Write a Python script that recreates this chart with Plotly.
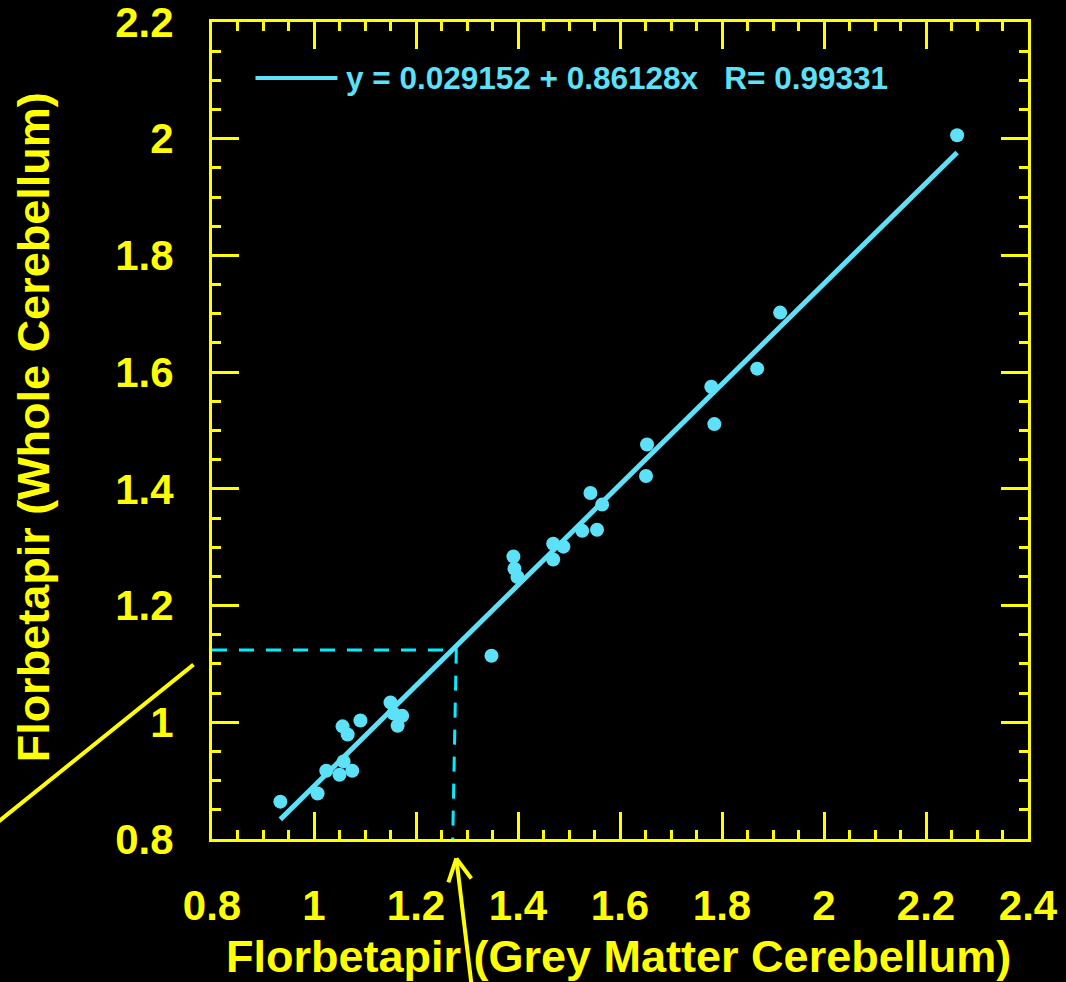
import plotly.graph_objects as go

# ---- data ----
grey_matter = [0.934, 1.007, 1.024, 1.050, 1.058, 1.075, 1.056, 1.066, 1.091,
               1.150, 1.156, 1.173, 1.164, 1.348, 1.391, 1.393, 1.399, 1.469,
               1.489, 1.469, 1.526, 1.555, 1.565, 1.542, 1.651, 1.653, 1.779,
               1.785, 1.869, 1.914, 2.261]
whole_cereb = [0.864, 0.878, 0.917, 0.910, 0.933, 0.917, 0.993, 0.979, 1.003,
               1.034, 1.015, 1.011, 0.994, 1.114, 1.284, 1.263, 1.249, 1.306,
               1.301, 1.279, 1.328, 1.330, 1.373, 1.393, 1.422, 1.476, 1.575,
               1.511, 1.606, 1.702, 2.006]

intercept = 0.029152
slope = 0.86128
r_value = 0.99331
threshold_x_top = 1.279
threshold_x_bottom = 1.272
threshold_y = 1.124

x_ticks = [0.8, 1.0, 1.2, 1.4, 1.6, 1.8, 2.0, 2.2, 2.4]
x_tick_text = ["0.8", "1", "1.2", "1.4", "1.6", "1.8", "2", "2.2", "2.4"]
y_ticks = [0.8, 1.0, 1.2, 1.4, 1.6, 1.8, 2.0, 2.2]
y_tick_text = ["0.8", "1", "1.2", "1.4", "1.6", "1.8", "2", "2.2"]
x_range = [0.8, 2.4]
y_range = [0.8, 2.2]

x_title = "Florbetapir (Grey Matter Cerebellum)"
y_title = "Florbetapir (Whole Cerebellum)"

# ---- styling ----
YELLOW = "#FFFF00"
CYAN = "#5CE1F8"
DASH_CYAN = "#00EEFF"
FONT = "Liberation Sans, Arial, Helvetica, sans-serif"

W, H = 1066, 982
ML, MR, MT, MB = 211.5, 38, 22, 142.5
PW, PH = W - ML - MR, H - MT - MB


def px(xp):
    return (xp - ML) / PW


def py(yp):
    return (H - MB - yp) / PH


fit_x = [min(grey_matter), max(grey_matter)]
fit_y = [intercept + slope * v for v in fit_x]

fig = go.Figure()

# dashed threshold guides
fig.add_trace(go.Scatter(
    x=[x_range[0], threshold_x_top, threshold_x_bottom],
    y=[threshold_y, threshold_y, y_range[0]],
    mode="lines", line=dict(color=DASH_CYAN, width=3, dash="15px,12px"),
    hoverinfo="skip", showlegend=False))

# regression line
fig.add_trace(go.Scatter(
    x=fit_x, y=fit_y, mode="lines",
    line=dict(color=CYAN, width=5), showlegend=False))

# data points
fig.add_trace(go.Scatter(
    x=grey_matter, y=whole_cereb, mode="markers",
    marker=dict(color=CYAN, size=14, line=dict(width=0)),
    showlegend=False))

axis_common = dict(
    showline=True, linecolor=YELLOW, linewidth=3, mirror="allticks",
    ticks="inside", ticklen=27, tickwidth=3, tickcolor=YELLOW,
    showgrid=False, zeroline=False, automargin=False,
    ticklabeloverflow="allow",
    tickfont=dict(family=FONT, size=42, color=YELLOW, weight="bold"),
    minor=dict(ticks="inside", ticklen=9, tickwidth=2.5, tickcolor=YELLOW,
               dtick=0.05, showgrid=False),
)

fig.update_xaxes(range=x_range, tickvals=x_ticks, ticktext=x_tick_text,
                 ticklabelstandoff=28, **axis_common)
fig.update_yaxes(range=y_range, tickvals=y_ticks, ticktext=y_tick_text,
                 ticklabelstandoff=27, **axis_common)

shapes = []
# legend sample line
shapes.append(dict(type="line", xref="paper", yref="paper",
                   x0=px(255), x1=px(337), y0=py(78), y1=py(78),
                   line=dict(color=CYAN, width=4)))
# yellow pointer line on the left
shapes.append(dict(type="line", xref="paper", yref="paper",
                   x0=px(-2), y0=py(822), x1=px(193), y1=py(665),
                   line=dict(color=YELLOW, width=4)))
# yellow arrow below the x axis
shapes.append(dict(type="line", xref="paper", yref="paper",
                   x0=px(471), y0=py(984), x1=px(456), y1=py(859),
                   line=dict(color=YELLOW, width=4)))
shapes.append(dict(type="line", xref="paper", yref="paper",
                   x0=px(456), y0=py(859), x1=px(448), y1=py(883),
                   line=dict(color=YELLOW, width=4)))
shapes.append(dict(type="line", xref="paper", yref="paper",
                   x0=px(456), y0=py(859), x1=px(471), y1=py(879),
                   line=dict(color=YELLOW, width=4)))

legend_text = f"y = {intercept:g} + {slope:g}x &nbsp; R= {r_value:g}"

annotations = [
    dict(text=legend_text, xref="paper", yref="paper", x=px(344), y=py(78),
         xanchor="left", yanchor="middle", showarrow=False,
         font=dict(family=FONT, size=31.5, color=CYAN, weight="bold")),
    dict(text=x_title, xref="paper", yref="paper", x=px(618), y=py(957),
         xanchor="center", yanchor="middle", showarrow=False,
         font=dict(family=FONT, size=45, color=YELLOW, weight="bold")),
    dict(text=y_title, xref="paper", yref="paper", x=px(33), y=py(428),
         xanchor="center", yanchor="middle", showarrow=False, textangle=-90,
         font=dict(family=FONT, size=45, color=YELLOW, weight="bold")),
]

fig.update_layout(
    width=W, height=H,
    margin=dict(l=ML, r=MR, t=MT, b=MB, pad=0, autoexpand=False),
    paper_bgcolor="black", plot_bgcolor="black",
    shapes=shapes, annotations=annotations,
    showlegend=False,
)

fig.write_html("out.html", config={"displayModeBar": False})

# remove the default page margin so the figure fills the window
with open("out.html", "r", encoding="utf-8") as f:
    html = f.read()
html = html.replace("<head>", "<head><style>html,body{margin:0;padding:0;"
                    "background:#000;overflow:hidden;}</style>", 1)
with open("out.html", "w", encoding="utf-8") as f:
    f.write(html)
